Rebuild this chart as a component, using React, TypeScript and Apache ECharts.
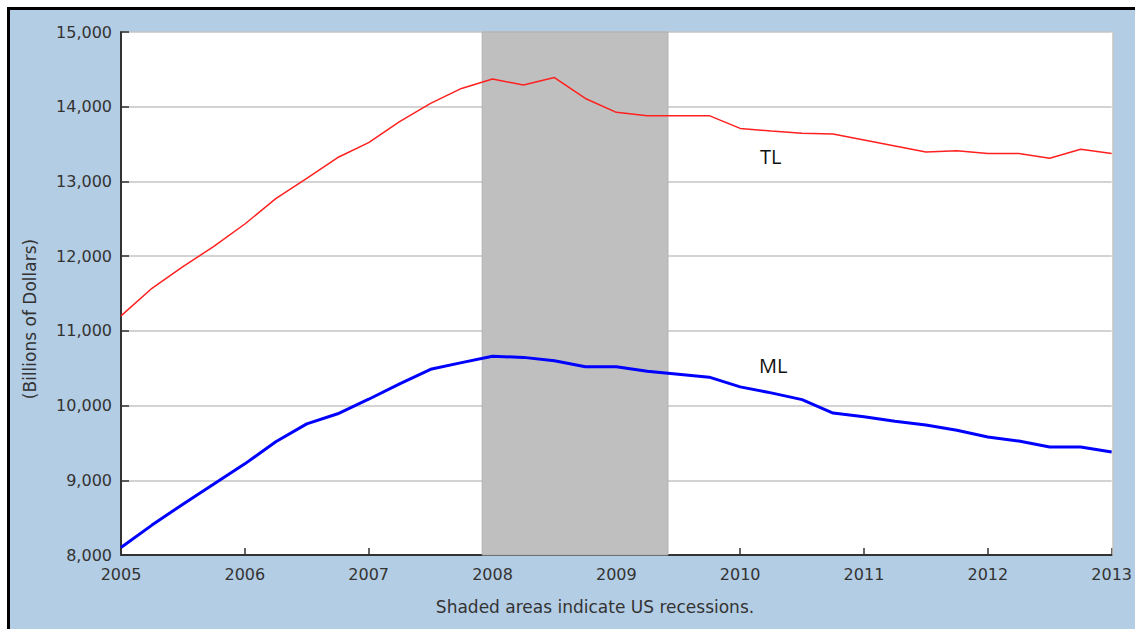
import React, { useEffect, useRef } from "react";
import * as echarts from "echarts";

const quarters: number[] = [
  2005, 2005.25, 2005.5, 2005.75,
  2006, 2006.25, 2006.5, 2006.75,
  2007, 2007.25, 2007.5, 2007.75,
  2008, 2008.25, 2008.5, 2008.75,
  2009, 2009.25, 2009.5, 2009.75,
  2010, 2010.25, 2010.5, 2010.75,
  2011, 2011.25, 2011.5, 2011.75,
  2012, 2012.25, 2012.5, 2012.75,
  2013,
];

const tlValues: number[] = [
  11200, 11570, 11860, 12130,
  12430, 12770, 13040, 13320,
  13520, 13800, 14045, 14245,
  14370, 14290, 14390, 14110,
  13925, 13880, 13880, 13880,
  13710, 13675, 13645, 13635,
  13555, 13475, 13395, 13410,
  13375, 13375, 13310, 13430,
  13375,
];

const mlValues: number[] = [
  8100, 8400, 8680, 8950,
  9220, 9515, 9755, 9890,
  10085, 10290, 10485, 10575,
  10660, 10645, 10600, 10520,
  10520, 10460, 10420, 10380,
  10250, 10170, 10080, 9900,
  9850, 9790, 9740, 9670,
  9580, 9525, 9445, 9445,
  9380,
];

const recessionStart = 2007.917;
const recessionEnd = 2009.417;

const yTicks = { min: 8000, max: 15000, interval: 1000 };
const xTicks = { min: 2005, max: 2013, interval: 1 };

const seriesNames = { tl: "TL", ml: "ML" };
const yAxisTitle = "(Billions of Dollars)";
const footnote = "Shaded areas indicate US recessions.";

const FONT = "DejaVu Sans";

export default function App() {
  const ref = useRef<HTMLDivElement>(null);

  useEffect(() => {
    document.body.style.margin = "0";
    if (!ref.current) return;
    const chart = echarts.init(ref.current, undefined, { renderer: "svg" });

    const tlData = quarters.map((q, i) => [q, tlValues[i]]);
    const mlData = quarters.map((q, i) => [q, mlValues[i]]);

    chart.setOption({
      animation: false,
      backgroundColor: "#ffffff",
      grid: { left: 121, top: 32, right: 22, bottom: 74, containLabel: false },
      xAxis: {
        type: "value",
        min: xTicks.min,
        max: xTicks.max,
        interval: xTicks.interval,
        axisLine: { show: true, onZero: false, lineStyle: { color: "#333333", width: 2 } },
        axisTick: { show: true, inside: true, length: 7, lineStyle: { color: "#333333", width: 1.5 } },
        axisLabel: {
          color: "#333333",
          fontFamily: FONT,
          fontSize: 16,
          margin: 11,
          formatter: (v: number) => String(v),
        },
        splitLine: { show: false },
      },
      yAxis: {
        type: "value",
        min: yTicks.min,
        max: yTicks.max,
        interval: yTicks.interval,
        axisLine: { show: true, lineStyle: { color: "#333333", width: 2 } },
        axisTick: { show: true, inside: true, length: 8, lineStyle: { color: "#333333", width: 1.5 } },
        axisLabel: {
          color: "#333333",
          fontFamily: FONT,
          fontSize: 16,
          margin: 9,
          formatter: (v: number) => v.toLocaleString("en-US"),
        },
        splitLine: { show: true, lineStyle: { color: "#c4c4c4", width: 1.5 } },
      },
      graphic: [
        { type: "rect", left: 0, top: 0, shape: { width: 1135, height: 629 }, style: { fill: "#ffffff" }, z: -11 },
        { type: "rect", left: 10, top: 10, shape: { width: 1125, height: 619 }, style: { fill: "#b3cde4" }, z: -9 },
        { type: "rect", left: 7, top: 7, shape: { width: 1128, height: 3 }, style: { fill: "#000000" }, z: -9 },
        { type: "rect", left: 7, top: 7, shape: { width: 3, height: 622 }, style: { fill: "#000000" }, z: -9 },
        { type: "rect", left: 121, top: 32, shape: { width: 992, height: 523 }, style: { fill: "#ffffff" }, z: -8 },
        { type: "line", shape: { x1: 1113, y1: 32, x2: 1113, y2: 555 }, style: { stroke: "#c4c4c4", lineWidth: 1.5 }, z: 5 },
        { type: "text", x: 760, y: 146, style: { text: seriesNames.tl, fontFamily: "Open Sans", fontSize: 20, fill: "#111111" }, z: 20 },
        { type: "text", x: 759, y: 355, style: { text: seriesNames.ml, fontFamily: "Open Sans", fontSize: 20, fill: "#111111" }, z: 20 },
        { type: "text", x: 30, y: 319, rotation: Math.PI / 2, style: { text: yAxisTitle, fontFamily: FONT, fontSize: 17, fill: "#333333", align: "center", verticalAlign: "middle" }, z: 20 },
        { type: "text", x: 595, y: 607, style: { text: footnote, fontFamily: FONT, fontSize: 17, fill: "#333333", align: "center", verticalAlign: "middle" }, z: 20 },
      ],
      series: [
        {
          type: "line",
          name: "recession",
          data: [],
          silent: true,
          z: 1,
          markArea: {
            silent: true,
            itemStyle: { color: "#bfbfbf", borderColor: "#b0b0b0", borderWidth: 1, opacity: 1 },
            data: [[{ xAxis: recessionStart }, { xAxis: recessionEnd }]],
          },
        },
        {
          type: "line",
          name: seriesNames.tl,
          data: tlData,
          showSymbol: false,
          symbol: "none",
          z: 3,
          lineStyle: { color: "#ff2020", width: 1.5 },
        },
        {
          type: "line",
          name: seriesNames.ml,
          data: mlData,
          showSymbol: false,
          symbol: "none",
          z: 3,
          lineStyle: { color: "#0000ff", width: 3 },
        },
      ],
    });

    return () => chart.dispose();
  }, []);

  return <div ref={ref} style={{ width: 1135, height: 629 }} />;
}
